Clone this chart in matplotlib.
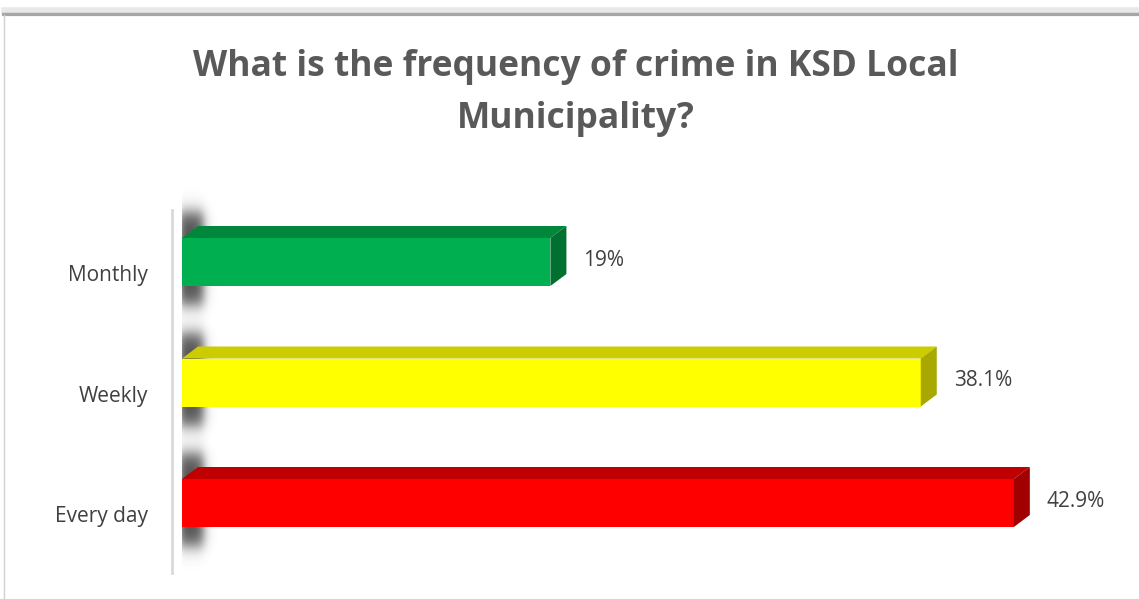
import numpy as np
import matplotlib
matplotlib.use("Agg")
import matplotlib.pyplot as plt
from matplotlib.patches import Polygon, Rectangle
from matplotlib.lines import Line2D

# ---- data ----
categories = ["Every day", "Weekly", "Monthly"]
values = [42.9, 38.1, 19.0]
labels = ["42.9%", "38.1%", "19%"]
front_colors = ["#FF0000", "#FFFF00", "#00B050"]
top_colors = ["#C00000", "#CCCC00", "#00873C"]
side_colors = ["#A00000", "#A8A800", "#007030"]
title = "What is the frequency of crime in KSD Local\nMunicipality?"

W, H = 1139, 599
fig = plt.figure(figsize=(W / 100, H / 100), dpi=100)
fig.patch.set_facecolor("white")

# axes geometry (pixels)
px_per_pct = 19.39
xmax = 48.0
ax_left = 182
ax_w = px_per_pct * xmax
ylo, yhi = -0.6, 2.75
row_px = 120.5
y0_px_top = 503  # pixel (from top) of y=0
ax_top_px = y0_px_top - row_px * yhi
ax_bot_px = y0_px_top - row_px * ylo
ax = fig.add_axes([ax_left / W, 1 - ax_bot_px / H, ax_w / W, (ax_bot_px - ax_top_px) / H])
ax.set_xlim(0, xmax)
ax.set_ylim(ylo, yhi)
ax.axis("off")

bar_h = 48 / row_px
dx = 16 / px_per_pct
dy = 12 / row_px

# soft shadows on the "wall"
xs = np.linspace(-1.5, 2.6, 140)
for i, v in enumerate(values):
    yc = i
    ys = np.linspace(yc - 0.65, yc + 0.65, 180)
    fx = 0.5 * (np.tanh((xs - (-0.1)) / 0.22) - np.tanh((xs - 1.1) / 0.3))
    fy = 0.5 * (np.tanh((ys - (yc - 0.36)) / 0.08) - np.tanh((ys - (yc + 0.41)) / 0.08))
    a = np.outer(fy, fx) * 0.85
    img = np.zeros((len(ys), len(xs), 4))
    img[..., :3] = 0.2
    img[..., 3] = a
    ax.imshow(img, extent=[xs[0], xs[-1], ys[0], ys[-1]], origin="lower",
              aspect="auto", zorder=1, interpolation="bilinear")

for i, (v, fc, tc, sc, lab) in enumerate(zip(values, front_colors, top_colors, side_colors, labels)):
    yb = i - bar_h / 2
    yt = i + bar_h / 2
    ax.add_patch(Rectangle((0, yb), v, bar_h, facecolor=fc, edgecolor="none", zorder=3))
    ax.add_patch(Polygon([(0, yt), (v, yt), (v + dx, yt + dy), (dx, yt + dy)],
                         closed=True, facecolor=tc, edgecolor="none", zorder=3))
    ax.add_patch(Polygon([(v, yb), (v, yt), (v + dx, yt + dy), (v + dx, yb + dy)],
                         closed=True, facecolor=sc, edgecolor="none", zorder=3))
    ax.text(v + dx + 17 / px_per_pct, i + 0.015, lab, ha="left", va="center",
            fontsize=15, color="#404040", family="Open Sans", zorder=4)
    ax.text(-34 / px_per_pct, i - 0.115, categories[i], ha="right", va="center",
            fontsize=15, color="#404040", family="Open Sans", zorder=4)

# vertical axis line
fig.add_artist(Line2D([171.5 / W, 171.5 / W], [1 - 210 / H, 1 - 573 / H],
                      color="#D9D9D9", lw=2))

# chart frame with shadow
fig.add_artist(Line2D([4 / W, 1], [1 - 13.5 / H, 1 - 13.5 / H], color="#A6A6A6", lw=3))
fig.add_artist(Line2D([4 / W, 1], [1 - 10 / H, 1 - 10 / H], color="#E8E8E8", lw=4))
fig.add_artist(Line2D([3.5 / W, 3.5 / W], [1 - 15 / H, 0], color="#D0D0D0", lw=1))

fig.text(576 / W, 1 - 93 / H, title, ha="center", va="center", fontsize=25.5,
         fontweight="bold", color="#595959", family="Open Sans", linespacing=1.56)

fig.savefig("out.png", dpi=100, facecolor="white")
